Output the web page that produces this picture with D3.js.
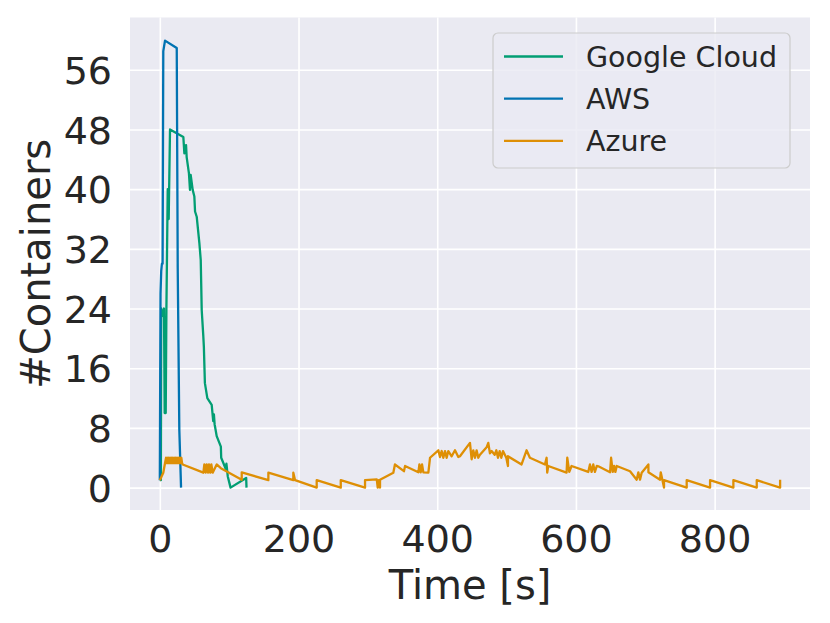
<!DOCTYPE html>
<html>
<head>
<meta charset="utf-8">
<script src="https://cdn.jsdelivr.net/npm/d3@7"></script>
<style>
  body { margin: 0; background: #ffffff; }
  svg { display: block; font-family: "DejaVu Sans", sans-serif; }
</style>
</head>
<body>
<svg id="chart"></svg>
<script>
// Series labels in legend order
const seriesNames = ["Google Cloud", "AWS", "Azure"];
const seriesColors = ["#029e73", "#0173b2", "#de8f05"];

// [time (s), containers]
const googleCloud = [
  [0, 1], [1.5, 1], [2, 24], [4, 23], [6, 24], [7, 10], [8.5, 10], [9.5, 24],
  [11.4, 40], [12.8, 36], [14.7, 48], [33.9, 47], [35.4, 44.8], [37.8, 45.9],
  [38.7, 44.3], [42, 42.1], [43.5, 39.9], [44.5, 41.9], [47.4, 39.9], [49.8, 39],
  [50.8, 37], [53.2, 36.3], [57, 32.8], [59, 30.5], [60.4, 23.8], [62.7, 20.3],
  [63.5, 18.9], [65, 14], [68.5, 12], [74.8, 11.1], [77, 8.9], [78, 9.8],
  [79, 8.5], [82, 6.9], [88, 5.5], [88.5, 4], [91.6, 3.3], [95.5, 2.4],
  [96, 3.2], [98, 1.5], [102, 0], [124.5, 1.3], [125, 0]
];

const aws = [
  [0, 1], [1, 26], [2, 29], [3, 30], [4, 30], [5, 58.5], [7.5, 59.9],
  [24.4, 58.9], [25.8, 29.5], [28.1, 7.8], [29, 5], [30.6, 0]
];

const azure = [
  [0, 1], [5, 2], [7.5, 3.3], [9, 4], [10, 3.3], [11, 4], [12, 3.3], [13, 4],
  [14, 3.3], [15, 4], [16, 3.3], [17, 4], [18, 3.3], [19, 4], [20, 3.3], [21, 4],
  [22, 3.3], [23, 4], [24, 3.3], [25, 4], [26, 3.3], [27, 4], [28, 3.3], [29, 4],
  [30, 3.3], [31, 4], [32, 3.3], [33, 3.1], [62.8, 2], [64.2, 3.1], [66.1, 2],
  [67.6, 3.1], [69.5, 2], [70.9, 3.1], [72.9, 2], [74.3, 3.1], [76.2, 2],
  [82, 3.1], [88, 2.6], [118.1, 1.06], [118.1, 2.05], [156.5, 1], [156.5, 2],
  [192.5, 1], [192.5, 2], [195, 1], [226.2, 0], [226.2, 1], [260.9, 0],
  [260.9, 1], [295.9, 0], [295.9, 1], [312.8, 1.1], [314.2, 0], [315.7, 1],
  [317.5, 0], [317.5, 1.06], [336.7, 2], [339, 3.1], [352, 2.2], [353.6, 2.9],
  [372.8, 2.05], [374.3, 3.1], [376.2, 2.05], [378.1, 3.1], [380, 2.05],
  [387.2, 2], [389.6, 4], [401.6, 5], [404, 4.1], [406.4, 4.9], [408.8, 4],
  [411.2, 4.9], [413.6, 4], [416, 4.9], [420.8, 4.2], [425.6, 5], [430.4, 4.1],
  [432.8, 4.2], [447.2, 6], [449.6, 3.8], [452, 5], [454.4, 4], [456.8, 5],
  [459.2, 4], [461.6, 4.4], [471.2, 5.4], [473.6, 6], [476, 4.6], [478.5, 4.9],
  [482.8, 4.4], [485.2, 5], [487.6, 4], [490, 4.9], [492.4, 4], [494.8, 4.9],
  [499.6, 4], [502, 2.9], [502, 4.2], [521.6, 3.1], [528.8, 5], [533.6, 4],
  [555.3, 3.1], [557.7, 4], [558.6, 2], [560.1, 2.9], [586.5, 2], [587.5, 4],
  [590.4, 2.1], [593.7, 2.9], [617.8, 2.1], [620.2, 3.1], [622.6, 2.1],
  [625, 3.1], [627.4, 2.1], [630, 2.9], [632.3, 2.85], [649.2, 2.05],
  [650.7, 4], [653.1, 2.1], [655, 2.9], [656.9, 2.1], [658.8, 2.9], [678, 2.2],
  [687.6, 1.06], [690, 2.05], [692.4, 1.06], [694.8, 2], [704.5, 3.1],
  [704.5, 2.05], [721.3, 1.06], [722.3, 2.05], [727, 0], [727, 1], [759.7, 0],
  [759.7, 1], [793.4, 0], [793.4, 1], [827, 0], [827, 1], [860.7, 0],
  [860.7, 1], [894.4, 0], [894.4, 1.06]
];

const xTicks = [0, 200, 400, 600, 800];
const yTicks = [0, 8, 16, 24, 32, 40, 48, 56];

const W = 830, H = 623;
const plot = { left: 130, right: 810, top: 17.5, bottom: 510 };

const svg = d3.select("#chart")
    .attr("width", W)
    .attr("height", H);

const x = d3.scaleLinear()
    .domain([-43, 937.5])
    .range([plot.left, plot.right]);

const y = d3.scaleLinear()
    .domain([-3, 63])
    .range([plot.bottom, plot.top]);

// plot background
svg.append("rect")
    .attr("x", plot.left)
    .attr("y", plot.top)
    .attr("width", plot.right - plot.left)
    .attr("height", plot.bottom - plot.top)
    .attr("fill", "#eaeaf2");

// grid lines
svg.append("g")
    .attr("transform", `translate(0,${plot.bottom})`)
    .call(d3.axisBottom(x).tickValues(xTicks).tickSize(-(plot.bottom - plot.top)).tickFormat(""))
    .call(g => g.select(".domain").remove())
    .selectAll("line")
    .attr("stroke", "#ffffff")
    .attr("stroke-width", 1.6);

svg.append("g")
    .attr("transform", `translate(${plot.left},0)`)
    .call(d3.axisLeft(y).tickValues(yTicks).tickSize(-(plot.right - plot.left)).tickFormat(""))
    .call(g => g.select(".domain").remove())
    .selectAll("line")
    .attr("stroke", "#ffffff")
    .attr("stroke-width", 1.6);

// tick labels
const xAxis = svg.append("g")
    .attr("transform", `translate(0,${plot.bottom})`)
    .call(d3.axisBottom(x).tickValues(xTicks).tickSize(0).tickPadding(0));
xAxis.select(".domain").remove();
xAxis.selectAll("text")
    .attr("y", 42)
    .attr("dy", 0)
    .style("font-size", "38px")
    .style("font-family", "DejaVu Sans")
    .style("fill", "#262626");

const yAxis = svg.append("g")
    .attr("transform", `translate(${plot.left},0)`)
    .call(d3.axisLeft(y).tickValues(yTicks).tickSize(0).tickPadding(0));
yAxis.select(".domain").remove();
yAxis.selectAll("text")
    .attr("x", -18)
    .attr("dy", "0.36em")
    .style("font-size", "38px")
    .style("font-family", "DejaVu Sans")
    .style("fill", "#262626");

// axis titles
svg.append("text")
    .attr("x", (plot.left + plot.right) / 2)
    .attr("y", 599)
    .attr("text-anchor", "middle")
    .style("font-size", "40px")
    .style("fill", "#262626")
    .text("Time [s]");

svg.append("text")
    .attr("transform", `translate(50,${(plot.top + plot.bottom) / 2}) rotate(-90)`)
    .attr("text-anchor", "middle")
    .style("font-size", "40px")
    .style("fill", "#262626")
    .text("#Containers");

// lines
const line = d3.line()
    .x(d => x(d[0]))
    .y(d => y(d[1]));

svg.append("clipPath").attr("id", "clip")
  .append("rect")
    .attr("x", plot.left)
    .attr("y", plot.top)
    .attr("width", plot.right - plot.left)
    .attr("height", plot.bottom - plot.top);

[googleCloud, aws, azure].forEach((series, i) => {
  svg.append("path")
      .datum(series)
      .attr("clip-path", "url(#clip)")
      .attr("fill", "none")
      .attr("stroke", seriesColors[i])
      .attr("stroke-width", 2.3)
      .attr("stroke-linejoin", "round")
      .attr("d", line);
});

// legend
const legend = svg.append("g");
legend.append("rect")
    .attr("x", 493)
    .attr("y", 33)
    .attr("width", 297)
    .attr("height", 135)
    .attr("rx", 5)
    .attr("fill", "#eaeaf2")
    .attr("fill-opacity", 0.8)
    .attr("stroke", "#cccccc")
    .attr("stroke-width", 1.2);

seriesNames.forEach((name, i) => {
  const cy = 56.5 + i * 42.2;
  legend.append("line")
      .attr("x1", 504)
      .attr("x2", 563)
      .attr("y1", cy)
      .attr("y2", cy)
      .attr("stroke", seriesColors[i])
      .attr("stroke-width", 2.3);
  legend.append("text")
      .attr("x", 586)
      .attr("y", cy)
      .attr("dy", "0.36em")
      .style("font-size", "28.5px")
      .style("fill", "#262626")
      .text(name);
});
</script>
</body>
</html>
